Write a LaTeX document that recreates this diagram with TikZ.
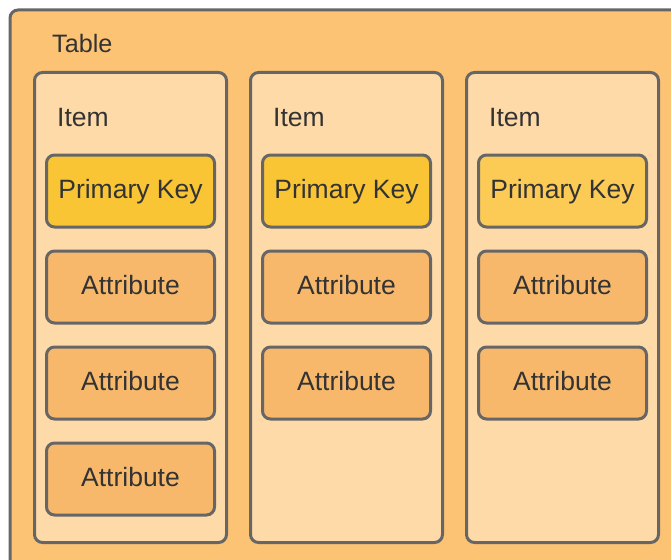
\documentclass[tikz,border=0pt]{standalone}
\usepackage{fontspec}
\setmainfont{Liberation Sans}
\definecolor{edge}{HTML}{666666}
\definecolor{txt}{HTML}{333333}
\definecolor{tablefill}{HTML}{FDC375}
\definecolor{itemfill}{HTML}{FFDAA9}
\definecolor{pkfill}{HTML}{FAC535}
\definecolor{pkfilllight}{HTML}{FBCB56}
\definecolor{attrfill}{HTML}{F7B86B}
\begin{document}
\begin{tikzpicture}[x=1pt,y=-1pt,
  tablebox/.style={draw=edge,line width=3pt,fill=tablefill,rounded corners=8pt},
  itembox/.style={draw=edge,line width=3pt,fill=itemfill,rounded corners=8pt,minimum width=192pt,minimum height=470pt,inner sep=0pt},
  field/.style={draw=edge,line width=3pt,rounded corners=8pt,minimum width=168pt,minimum height=72pt,inner sep=0pt,text height=19pt,text depth=5pt,text=txt,font=\fontsize{26.5}{30}\selectfont},
  pk/.style={field,fill=pkfill},
  pklight/.style={field,fill=pkfilllight},
  attr/.style={field,fill=attrfill},
  lbl/.style={anchor=base west,inner sep=0pt,text=txt,font=\fontsize{26.5}{30}\selectfont}
]
\useasboundingbox (0,0) rectangle (671,559);
\begin{scope}
\clip (0,0) rectangle (671,559);
\draw[tablebox] (10,10) rectangle (700,600);
\end{scope}
\node[lbl,font=\fontsize{25.2}{28}\selectfont] (tablelbl) at (52,53) {Table};
% items
\foreach \n/\cx in {1/130.5,2/346.5,3/562.5}{
  \node[itembox] (item\n) at (\cx,307.5) {};
}
\node[lbl] (itemlbl1) at (57,126) {Item};
\node[lbl] (itemlbl2) at (273,126) {Item};
\node[lbl] (itemlbl3) at (489,126) {Item};
% column 1
\node[pk] (pk1) at (130.5,191) {Primary Key};
\node[attr] (a11) at (130.5,287) {Attribute};
\node[attr] (a12) at (130.5,383) {Attribute};
\node[attr] (a13) at (130.5,479) {Attribute};
% column 2
\node[pk] (pk2) at (346.5,191) {Primary Key};
\node[attr] (a21) at (346.5,287) {Attribute};
\node[attr] (a22) at (346.5,383) {Attribute};
% column 3
\node[pklight] (pk3) at (562.5,191) {Primary Key};
\node[attr] (a31) at (562.5,287) {Attribute};
\node[attr] (a32) at (562.5,383) {Attribute};
\end{tikzpicture}
\end{document}
